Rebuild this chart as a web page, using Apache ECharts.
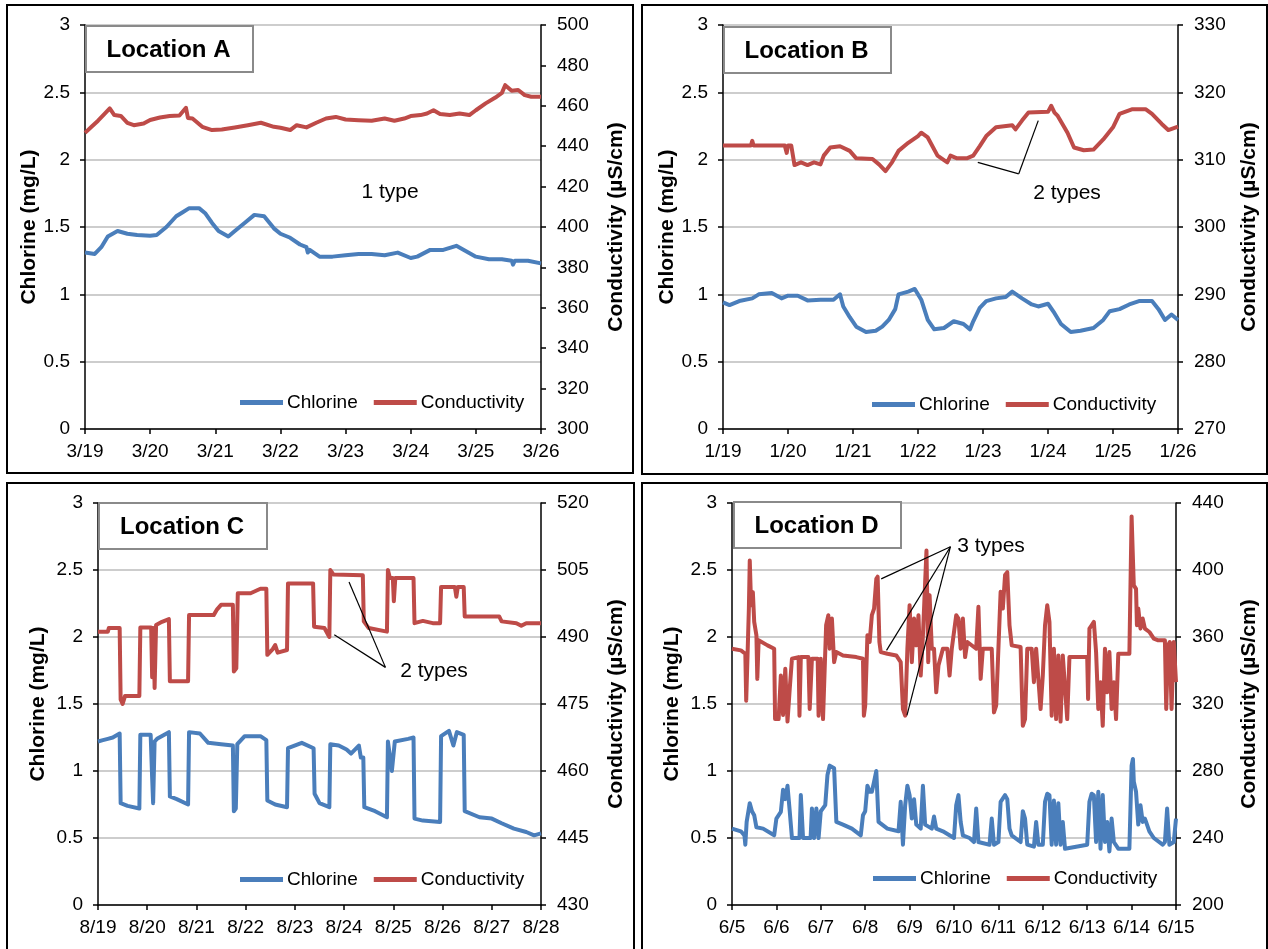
<!DOCTYPE html>
<html>
<head>
<meta charset="utf-8">
<script src="https://cdn.jsdelivr.net/npm/echarts@6/dist/echarts.min.js"></script>
<style>
html, body { margin: 0; padding: 0; background: #fff; }
#chart { width: 1268px; height: 949px; }
</style>
</head>
<body>
<div id="chart"></div>
<script>
"use strict"
// tick labels (x = day offset from first date)
var datesA = ['3/19', '3/20', '3/21', '3/22', '3/23', '3/24', '3/25', '3/26'];
var datesB = ['1/19', '1/20', '1/21', '1/22', '1/23', '1/24', '1/25', '1/26'];
var datesC = ['8/19', '8/20', '8/21', '8/22', '8/23', '8/24', '8/25', '8/26', '8/27', '8/28'];
var datesD = ['6/5', '6/6', '6/7', '6/8', '6/9', '6/10', '6/11', '6/12', '6/13', '6/14', '6/15'];

// [day, mg/L]
var chlorineA = [[0,1.31],[0.15,1.30],[0.25,1.35],[0.35,1.43],[0.5,1.47],[0.65,1.45],[0.8,1.44],[1.0,1.435],[1.1,1.44],[1.25,1.50],[1.4,1.58],[1.5,1.61],[1.6,1.64],[1.75,1.64],[1.85,1.60],[1.95,1.53],[2.05,1.47],[2.2,1.43],[2.3,1.47],[2.45,1.53],[2.6,1.59],[2.75,1.58],[2.9,1.49],[3.0,1.45],[3.15,1.42],[3.3,1.37],[3.4,1.35],[3.42,1.31],[3.45,1.33],[3.6,1.28],[3.8,1.28],[4.0,1.29],[4.2,1.30],[4.4,1.30],[4.6,1.29],[4.8,1.31],[5.0,1.27],[5.1,1.28],[5.3,1.33],[5.5,1.33],[5.7,1.36],[5.85,1.32],[6.0,1.28],[6.2,1.26],[6.4,1.26],[6.55,1.25],[6.57,1.22],[6.6,1.25],[6.8,1.25],[7.0,1.23]];
// [day, uS/cm]
var conductivityA = [[0,446.6],[0.1,449.6],[0.2,452.6],[0.3,456],[0.38,458.7],[0.45,455.4],[0.55,455],[0.65,451.6],[0.75,450.4],[0.9,451.2],[1.0,453],[1.15,454.2],[1.3,454.9],[1.45,455.2],[1.55,459],[1.58,454],[1.65,453.7],[1.8,449.6],[1.95,448],[2.1,448.3],[2.3,449.3],[2.5,450.4],[2.7,451.6],[2.9,449.6],[3.0,449.1],[3.15,448],[3.25,450.4],[3.4,449.3],[3.55,451.6],[3.7,453.7],[3.85,454.5],[4.0,453.2],[4.2,452.9],[4.4,452.6],[4.6,453.7],[4.75,452.6],[4.9,453.7],[5.0,454.9],[5.15,455.4],[5.25,456.2],[5.35,457.8],[5.45,455.9],[5.6,455.4],[5.75,456.2],[5.9,455.4],[6.0,457.8],[6.15,461.2],[6.3,464.1],[6.4,466.4],[6.45,470.2],[6.55,467.4],[6.65,467.8],[6.75,465.3],[6.85,464.5],[7.0,464.5]];

var chlorineB = [[0,0.94],[0.1,0.92],[0.25,0.95],[0.45,0.97],[0.55,1.0],[0.75,1.01],[0.9,0.97],[1.0,0.99],[1.15,0.99],[1.3,0.955],[1.5,0.96],[1.7,0.96],[1.8,1.0],[1.85,0.91],[1.95,0.83],[2.05,0.76],[2.2,0.72],[2.35,0.73],[2.45,0.76],[2.55,0.81],[2.65,0.89],[2.7,1.0],[2.85,1.02],[2.95,1.04],[3.05,0.96],[3.15,0.81],[3.25,0.74],[3.4,0.75],[3.55,0.80],[3.7,0.78],[3.8,0.74],[3.85,0.80],[3.95,0.90],[4.05,0.95],[4.2,0.97],[4.35,0.98],[4.45,1.02],[4.6,0.97],[4.75,0.925],[4.85,0.91],[5.0,0.93],[5.1,0.86],[5.2,0.78],[5.35,0.72],[5.5,0.73],[5.7,0.75],[5.85,0.81],[5.95,0.875],[6.1,0.89],[6.25,0.925],[6.4,0.95],[6.6,0.95],[6.7,0.89],[6.8,0.81],[6.9,0.85],[7.0,0.81]];
var conductivityB = [[0,312.1],[0.43,312.1],[0.45,312.8],[0.47,312.1],[0.95,312.1],[0.98,311],[1.0,312.1],[1.05,312.1],[1.1,309.2],[1.2,309.6],[1.3,309.2],[1.4,309.6],[1.5,309.3],[1.55,310.6],[1.65,311.8],[1.8,312],[1.95,311.3],[2.05,310.2],[2.3,310.1],[2.4,309.3],[2.5,308.3],[2.6,309.6],[2.7,311.3],[2.85,312.5],[3.0,313.5],[3.05,314],[3.15,313.3],[3.3,310.6],[3.45,309.6],[3.5,310.6],[3.6,310.2],[3.75,310.2],[3.85,310.6],[3.95,312],[4.05,313.5],[4.2,314.8],[4.45,315.1],[4.5,314.5],[4.6,315.8],[4.7,317],[5.0,317.1],[5.05,318],[5.1,317],[5.15,316.5],[5.3,314],[5.4,311.8],[5.55,311.4],[5.7,311.5],[5.85,313],[6.0,314.8],[6.1,316.8],[6.3,317.5],[6.5,317.5],[6.6,316.8],[6.75,315.3],[6.85,314.4],[7.0,314.9]];

var chlorineC = [[0,1.22],[0.1,1.23],[0.2,1.24],[0.3,1.25],[0.44,1.28],[0.46,0.76],[0.6,0.74],[0.84,0.72],[0.86,1.27],[1.07,1.27],[1.1,0.95],[1.12,0.76],[1.15,1.22],[1.2,1.24],[1.44,1.29],[1.46,0.81],[1.6,0.79],[1.83,0.75],[1.85,1.29],[2.07,1.28],[2.24,1.21],[2.5,1.2],[2.74,1.19],[2.76,0.70],[2.8,0.72],[2.83,1.2],[2.98,1.26],[3.3,1.26],[3.42,1.23],[3.44,0.78],[3.6,0.75],[3.84,0.73],[3.86,1.17],[4.14,1.21],[4.38,1.17],[4.4,0.83],[4.5,0.76],[4.7,0.73],[4.72,1.2],[4.89,1.19],[5.05,1.16],[5.14,1.13],[5.3,1.19],[5.34,1.1],[5.39,1.1],[5.41,0.73],[5.63,0.70],[5.87,0.655],[5.89,1.22],[5.97,1.0],[6.03,1.22],[6.3,1.24],[6.41,1.25],[6.43,0.645],[6.6,0.63],[6.95,0.62],[6.97,1.26],[7.13,1.30],[7.22,1.19],[7.29,1.29],[7.43,1.27],[7.45,0.70],[7.75,0.655],[8.0,0.645],[8.2,0.61],[8.45,0.57],[8.7,0.545],[8.86,0.52],[9,0.535]];
var conductivityC = [[0,491.2],[0.2,491.2],[0.22,492],[0.44,492],[0.46,476],[0.5,475],[0.55,476.8],[0.84,476.8],[0.86,492.1],[1.08,492.1],[1.1,481],[1.13,492],[1.15,478.6],[1.18,492.7],[1.3,493.4],[1.44,494],[1.46,480.1],[1.83,480.1],[1.85,494.9],[2.35,494.9],[2.42,496.2],[2.5,497.2],[2.74,497.2],[2.76,482.3],[2.81,483],[2.84,499.8],[3.1,499.8],[3.3,500.8],[3.42,500.8],[3.44,486],[3.55,487.3],[3.6,488.2],[3.65,486.5],[3.84,487.1],[3.86,502],[4.37,502],[4.39,492.3],[4.6,492],[4.7,490],[4.72,505],[4.78,504],[5.38,503.8],[5.4,493.5],[5.5,492],[5.87,491.2],[5.89,505],[5.93,503.2],[5.99,503.2],[6.01,498],[6.04,503.2],[6.41,503.2],[6.43,493.1],[6.6,493.6],[6.8,493.1],[6.95,493.1],[6.97,501.2],[7.25,501.2],[7.28,499],[7.31,501.2],[7.43,501.2],[7.45,494.6],[8.15,494.6],[8.2,493.5],[8.5,493.1],[8.6,492.5],[8.7,493.1],[9,493.1]];

var chlorineD = [[0,0.57],[0.2,0.55],[0.28,0.52],[0.3,0.45],[0.33,0.62],[0.4,0.76],[0.45,0.70],[0.5,0.67],[0.55,0.58],[0.7,0.57],[0.95,0.52],[1.0,0.645],[1.1,0.695],[1.15,0.86],[1.2,0.79],[1.25,0.89],[1.3,0.70],[1.35,0.50],[1.52,0.50],[1.55,0.82],[1.6,0.50],[1.77,0.50],[1.8,0.72],[1.85,0.50],[1.88,0.50],[1.9,0.72],[1.95,0.50],[2.0,0.70],[2.1,0.745],[2.15,0.97],[2.2,1.04],[2.3,1.02],[2.35,0.62],[2.5,0.60],[2.7,0.57],[2.9,0.52],[2.95,0.67],[3.0,0.70],[3.05,0.89],[3.1,0.845],[3.15,0.845],[3.2,0.92],[3.25,1.0],[3.3,0.62],[3.5,0.57],[3.75,0.55],[3.8,0.77],[3.85,0.45],[3.9,0.745],[3.95,0.89],[4.0,0.82],[4.05,0.645],[4.1,0.79],[4.15,0.60],[4.25,0.57],[4.3,0.89],[4.35,0.60],[4.5,0.57],[4.55,0.66],[4.6,0.57],[4.75,0.55],[5.0,0.50],[5.05,0.745],[5.1,0.82],[5.15,0.62],[5.2,0.52],[5.35,0.50],[5.45,0.47],[5.5,0.72],[5.55,0.47],[5.8,0.45],[5.85,0.645],[5.9,0.45],[6.0,0.47],[6.05,0.77],[6.15,0.82],[6.2,0.79],[6.25,0.57],[6.3,0.52],[6.5,0.47],[6.55,0.70],[6.6,0.645],[6.65,0.45],[6.8,0.435],[6.85,0.62],[6.9,0.45],[7.0,0.45],[7.05,0.77],[7.1,0.83],[7.15,0.82],[7.2,0.45],[7.25,0.78],[7.3,0.45],[7.35,0.76],[7.4,0.45],[7.45,0.62],[7.5,0.42],[8.0,0.45],[8.05,0.77],[8.1,0.83],[8.15,0.82],[8.2,0.47],[8.25,0.845],[8.3,0.42],[8.35,0.82],[8.4,0.47],[8.45,0.62],[8.5,0.40],[8.55,0.645],[8.6,0.47],[8.7,0.42],[8.95,0.42],[9.0,1.04],[9.03,1.09],[9.05,0.92],[9.1,0.845],[9.15,0.60],[9.2,0.745],[9.25,0.62],[9.3,0.645],[9.4,0.55],[9.5,0.50],[9.7,0.45],[9.75,0.47],[9.8,0.72],[9.85,0.45],[9.95,0.47],[10,0.645]];
var conductivityD = [[0,353],[0.2,352],[0.3,350],[0.32,322],[0.35,349],[0.38,377],[0.4,405.6],[0.43,379],[0.47,386.7],[0.5,369],[0.55,361],[0.57,335],[0.6,358],[0.8,355],[0.95,353],[0.97,311],[1.05,311],[1.1,337],[1.15,313.5],[1.2,341],[1.25,309.5],[1.3,329],[1.35,347],[1.5,348],[1.52,313],[1.55,348],[1.72,348],[1.75,317],[1.8,347],[1.93,347],[1.95,313],[2.0,347],[2.05,311],[2.12,367],[2.17,373],[2.2,353],[2.25,371],[2.3,345],[2.35,351],[2.5,349],[2.8,348],[2.95,347],[2.97,313],[3.0,319],[3.05,361],[3.1,357],[3.15,373],[3.2,377],[3.25,394.7],[3.28,396],[3.32,357],[3.35,351],[3.5,350],[3.7,349],[3.8,345],[3.85,317],[3.9,313],[3.95,353],[4.0,379],[4.05,345],[4.1,371],[4.15,355],[4.2,373],[4.25,337],[4.3,361],[4.35,392.7],[4.38,411.6],[4.42,345],[4.45,385],[4.5,353],[4.55,353],[4.6,327],[4.65,343],[4.75,353],[4.85,353],[4.9,337],[4.95,353],[5.05,373],[5.1,371],[5.15,353],[5.2,371],[5.25,348],[5.3,357],[5.5,353],[5.55,378],[5.6,335],[5.65,353],[5.85,353],[5.9,315],[5.95,319],[6.0,353],[6.05,387],[6.1,377],[6.15,397],[6.2,398.7],[6.25,367],[6.3,355],[6.5,354],[6.55,307],[6.6,311],[6.65,353],[6.75,353],[6.8,333],[6.85,353],[6.95,317],[7.0,337],[7.05,367],[7.1,379],[7.15,369],[7.2,313],[7.25,353],[7.3,311],[7.35,349],[7.4,309.5],[7.45,349],[7.55,311],[7.6,348],[8.0,348],[8.02,323],[8.05,365],[8.1,367],[8.15,369],[8.2,351],[8.25,317],[8.3,333],[8.35,307],[8.4,353],[8.45,327],[8.5,351],[8.55,317],[8.6,333],[8.65,311],[8.7,350],[8.95,350],[9.0,432],[9.03,406.6],[9.05,390.8],[9.1,388.7],[9.12,367],[9.15,377],[9.2,365],[9.25,371],[9.3,365],[9.4,363],[9.5,359],[9.6,358],[9.75,358],[9.78,317],[9.82,355],[9.86,357],[9.9,317],[9.95,357],[10,333]];

// callout lines, [day, uS/cm] pairs from the label point to the curve
var calloutB = [[[4.55,307.9],[3.92,309.6]], [[4.55,307.9],[4.85,315.8]]];
var calloutC = [[[5.84,483.2],[4.8,490.5]], [[5.84,483.2],[5.1,502.3]]];
var calloutD = [[[4.92,413.9],[3.36,394.7]], [[4.92,413.9],[3.48,352]], [[4.92,413.9],[3.94,313.2]]];

var FONT = 'Liberation Sans, Arial, sans-serif';
var BLUE = '#4a7ebb';
var RED = '#be4b48';

var panels = [
  { title: 'Location A', grid: [85, 25, 456, 404], dates: datesA, chl: chlorineA, cond: conductivityA,
    cMin: 300, cMax: 500, cStep: 20, gapL: 43, gapR: 65, border: [7, 5, 626, 468],
    box: [86, 26, 167, 46], legend: [240, 393], note: ['1 type', 390, 192], callout: [] },
  { title: 'Location B', grid: [723, 25, 455, 404], dates: datesB, chl: chlorineB, cond: conductivityB,
    cMin: 270, cMax: 330, cStep: 10, gapL: 43, gapR: 61, border: [642, 5, 625, 469],
    box: [724, 27, 167, 46], legend: [872, 395], note: ['2 types', 1067, 193], callout: calloutB },
  { title: 'Location C', grid: [98, 503, 443, 402], dates: datesC, chl: chlorineC, cond: conductivityC,
    cMin: 430, cMax: 520, cStep: 15, gapL: 49, gapR: 65, border: [7, 483, 627, 480],
    box: [99, 503, 168, 46], legend: [240, 870], note: ['2 types', 434, 671], callout: calloutC },
  { title: 'Location D', grid: [732, 503, 444, 402], dates: datesD, chl: chlorineD, cond: conductivityD,
    cMin: 200, cMax: 440, cStep: 40, gapL: 49, gapR: 63, border: [642, 483, 625, 480],
    box: [734, 502, 167, 46], legend: [873, 869], note: ['3 types', 991, 546], callout: calloutD }
];

var grids = [], xAxes = [], yAxes = [], series = [], legends = [], graphics = [];

panels.forEach(function (p, i) {
  grids.push({ left: p.grid[0], top: p.grid[1], width: p.grid[2], height: p.grid[3] });
  var dates = p.dates;
  xAxes.push({
    gridIndex: i, type: 'value', min: 0, max: dates.length - 1, interval: 1,
    axisLine: { show: true, onZero: false, lineStyle: { color: '#000', width: 1.5 } },
    axisTick: { show: true, length: 5, lineStyle: { color: '#000', width: 1.5 } },
    axisLabel: { margin: 13, color: '#000', fontSize: 19, fontFamily: FONT,
      formatter: function (v) { return dates[Math.round(v)]; } },
    splitLine: { show: false }
  });
  yAxes.push({
    gridIndex: i, type: 'value', min: 0, max: 3, interval: 0.5, position: 'left',
    name: 'Chlorine (mg/L)', nameLocation: 'middle', nameGap: p.gapL, nameRotate: 90,
    nameTextStyle: { color: '#000', fontSize: 21, fontWeight: 'bold', fontFamily: FONT },
    axisLine: { show: true, lineStyle: { color: '#000', width: 1.5 } },
    axisTick: { show: true, length: 5, lineStyle: { color: '#000', width: 1.5 } },
    axisLabel: { margin: 15, color: '#000', fontSize: 19, fontFamily: FONT },
    splitLine: { show: true, lineStyle: { color: '#bdbdbd', width: 1.5 } }
  });
  yAxes.push({
    gridIndex: i, type: 'value', min: p.cMin, max: p.cMax, interval: p.cStep, position: 'right',
    alignTicks: false,
    name: 'Conductivity (µS/cm)', nameLocation: 'middle', nameGap: p.gapR, nameRotate: 90,
    nameTextStyle: { color: '#000', fontSize: 21, fontWeight: 'bold', fontFamily: FONT },
    axisLine: { show: true, lineStyle: { color: '#000', width: 1.5 } },
    axisTick: { show: true, length: 5, lineStyle: { color: '#000', width: 1.5 } },
    axisLabel: { margin: 16, color: '#000', fontSize: 19, fontFamily: FONT },
    splitLine: { show: false }
  });
  series.push({
    name: 'Chlorine', type: 'line', xAxisIndex: i, yAxisIndex: 2 * i,
    data: p.chl, showSymbol: false, symbol: 'none', z: 3,
    lineStyle: { color: BLUE, width: 4, join: 'round' }, itemStyle: { color: BLUE }
  });
  series.push({
    name: 'Conductivity', type: 'line', xAxisIndex: i, yAxisIndex: 2 * i + 1,
    data: p.cond, showSymbol: false, symbol: 'none', z: 3,
    lineStyle: { color: RED, width: 4, join: 'round' }, itemStyle: { color: RED },
    markLine: {
      silent: true, symbol: ['none', 'none'], animation: false,
      label: { show: false },
      lineStyle: { color: '#000', width: 1.2, type: 'solid' },
      data: p.callout.map(function (seg) {
        return [{ coord: seg[0] }, { coord: seg[1] }];
      })
    }
  });
  legends.push({
    left: p.legend[0], top: p.legend[1], padding: 0, itemGap: 16,
    icon: 'rect', itemWidth: 43, itemHeight: 5, selectedMode: false,
    data: ['Chlorine', 'Conductivity'],
    textStyle: { color: '#000', fontSize: 19, fontFamily: FONT, padding: [0, 0, 0, -1] }
  });
  // panel frame
  graphics.push({
    type: 'rect', silent: true, z: 0,
    shape: { x: p.border[0], y: p.border[1], width: p.border[2], height: p.border[3] },
    style: { fill: null, stroke: '#000', lineWidth: 2 }
  });
  // location box
  graphics.push({
    type: 'rect', silent: true, z: 10,
    shape: { x: p.box[0], y: p.box[1], width: p.box[2], height: p.box[3] },
    style: { fill: '#fff', stroke: '#8a8a8a', lineWidth: 2 }
  });
  graphics.push({
    type: 'text', silent: true, z: 11,
    x: p.box[0] + p.box[2] / 2 - 1, y: p.box[1] + p.box[3] / 2 + 1,
    style: { text: p.title, fill: '#000', font: 'bold 24px ' + FONT, align: 'center', verticalAlign: 'middle' }
  });
  graphics.push({
    type: 'text', silent: true, z: 11,
    x: p.note[1], y: p.note[2],
    style: { text: p.note[0], fill: '#000', font: '21px ' + FONT, align: 'center', verticalAlign: 'middle' }
  });
});

var chart = echarts.init(document.getElementById('chart'));
chart.setOption({
  backgroundColor: '#fff',
  animation: false,
  grid: grids,
  xAxis: xAxes,
  yAxis: yAxes,
  legend: legends,
  series: series,
  graphic: graphics
});
</script>
</body>
</html>
